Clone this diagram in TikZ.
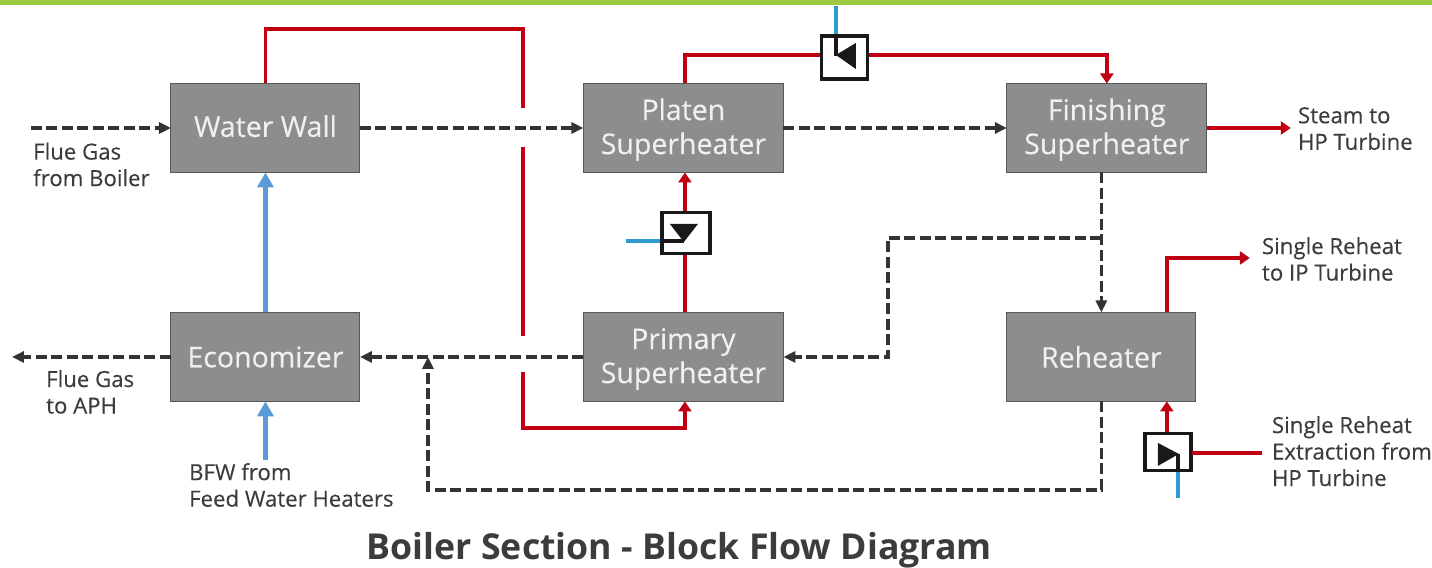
\documentclass[tikz,border=0pt]{standalone}
\usepackage{fontspec}
\setmainfont{Open Sans}
\newfontfamily\tagfont[FakeBold=0.25]{Open Sans}
\usetikzlibrary{arrows.meta, positioning, calc}
\definecolor{blockgray}{HTML}{8C8D8F}
\definecolor{steamred}{HTML}{C00010}
\definecolor{waterblue}{HTML}{5B9BD5}
\definecolor{sprayblue}{HTML}{2E9BD0}
\definecolor{textgray}{HTML}{3C3C3C}
\definecolor{barGreen}{HTML}{9BC93F}
\newcommand{\blocktop}{\rule{0pt}{25pt}}
\begin{document}
\begin{tikzpicture}[
    x=1pt, y=-1pt,
    node distance=140pt and 223.5pt,
    block/.style={rectangle, draw=black!65, line width=1pt, fill=blockgray, text=white!94!black, minimum height=89pt, minimum width=189pt, inner sep=0pt, outer sep=0pt, align=center, font=\tagfont\fontsize{28.5}{34}\selectfont},
    wideblock/.style={block, minimum width=200pt},
    valve/.style={rectangle, draw=black!90, line width=3.5pt, fill=white, minimum width=47pt, minimum height=42pt, inner sep=0pt, outer sep=1.5pt},
    tag/.style={align=left, anchor=north west, inner sep=0pt, text=textgray, font=\tagfont\fontsize{22.2}{26.5}\selectfont},
    steam/.style={draw=steamred, line width=3.5pt},
    steamarrow/.style={steam, -{Triangle[length=10pt, width=13pt]}},
    gas/.style={draw=black!80, line width=3.5pt, dash pattern=on 11pt off 4.5pt},
    gasarrow/.style={gas, -{Triangle[length=12pt, width=11pt]}},
    water/.style={draw=waterblue, line width=5pt, -{Triangle[length=15pt, width=16pt]}},
    spray/.style={draw=sprayblue, line width=3.5pt},
    nozzle/.style={draw=black!90, line width=3.5pt}
]

    % Boiler blocks
    \node[block, text depth=4pt] (waterwall) at (265.5,128) {Water Wall};
    \node[wideblock, right=of waterwall] (platen) {\blocktop Platen\\Superheater};
    \node[wideblock, right=of platen] (finishing) {\blocktop Finishing\\Superheater};
    \node[block, below=of waterwall] (economizer) {Economizer};
    \node[wideblock, below=of platen] (primary) {\blocktop Primary\\Superheater};
    \node[block] (reheater) at (1101.5,357) {Reheater};

    % Spray valves
    \node[valve, minimum width=46pt, minimum height=43pt] (valvetop) at (844.5,57.5) {};
    \node[valve, minimum width=48pt, minimum height=41pt] (valvemid) at (686,233) {};
    \node[valve, minimum width=46pt, minimum height=37pt] (valvelow) at (1168,452) {};

    % Free ends
    \coordinate (gasin) at (31,128);
    \coordinate (gasout) at (12,357);
    \coordinate (bfw) at (265.5,460);
    \coordinate (hpout) at (1291,128);
    \coordinate (ipout) at (1250,258);
    \coordinate (rhtop) at (1167,312);
    \coordinate (rhcold) at (1262,453);
    \coordinate (gapa) at (523,108);
    \coordinate (gapb) at (523,147);
    \coordinate (gapc) at (523,336);
    \coordinate (gapd) at (523,372);
    \coordinate (sprayatop) at (836,6);
    \coordinate (spraybmid) at (626,241);
    \coordinate (spraylow) at (1178,498);
    \coordinate (joinlow) at (428,490);
    \coordinate (joinmid) at (888,238);

    % Steam lines
    \draw[steam] (waterwall.north) |- (523,29) -- (gapa);
    \draw[steam] (gapb) -- (gapc);
    \draw[steamarrow] (gapd) |- (685,428) -- (primary.south -| 685,0);
    \draw[steamarrow] (valvemid.north -| 685,0) -- (platen.south -| 685,0);
    \draw[steam] (primary.north -| 685,0) -- (valvemid.south -| 685,0);
    \draw[steam] (platen.north -| 685,0) |- (valvetop.west |- 0,55);
    \draw[steamarrow] (valvetop.east |- 0,55) -| (finishing.north);
    \draw[steamarrow] (finishing.east) -- (hpout);
    \draw[steamarrow] (rhtop) |- (ipout);
    \draw[steamarrow] (rhtop |- valvelow.north) -- (rhtop |- reheater.south);
    \draw[steam] (rhcold) -- (valvelow.east |- rhcold);

    % Flue gas lines
    \draw[gasarrow] (gasin) -- (waterwall.west);
    \draw[gasarrow] (waterwall.east) -- (platen.west |- waterwall.east);
    \draw[gasarrow] (platen.east) -- (finishing.west |- platen.east);
    \draw[gasarrow] (finishing.south -| reheater.north) -- (reheater.north);
    \draw[gasarrow] (joinmid -| reheater.north) -- (joinmid) |- (primary.east);
    \draw[gasarrow] (primary.west) -- (economizer.east);
    \draw[gasarrow] (economizer.west) -- (gasout);
    \draw[gasarrow] (reheater.south) |- (joinlow) -- (joinlow |- economizer.east);

    % Water lines
    \draw[water] (economizer.north) -- (waterwall.south);
    \draw[water] (bfw) -- (economizer.south);

    % Spray lines and their nozzles
    \draw[spray] (sprayatop) -- (sprayatop |- valvetop.north);
    \draw[nozzle] (sprayatop |- valvetop.north) -- (836,56);
    \fill[black!90] (836,55) -- (856,43) -- (856,69) -- cycle;
    \draw[spray] (spraybmid) -- (spraybmid -| valvemid.west);
    \draw[nozzle] (spraybmid -| valvemid.west) -- (684,241);
    \fill[black!90] (684,242) -- (670,224) -- (698,224) -- cycle;
    \draw[spray] (spraylow) -- (spraylow |- valvelow.south);
    \draw[nozzle] (spraylow |- valvelow.south) -- (1178,454);
    \fill[black!90] (1179,454) -- (1158,443) -- (1158,466) -- cycle;

    % Labels
    \node[tag] (lblboiler) at (33,142.5) {Flue Gas\\from Boiler};
    \node[tag] (lblaph) at (46,370) {Flue Gas\\to APH};
    \node[tag] (lblbfw) at (189,463) {BFW from\\Feed Water Heaters};
    \node[tag] (lblhp) at (1298,107) {Steam to\\HP Turbine};
    \node[tag] (lblip) at (1262,237) {Single Reheat\\to IP Turbine};
    \node[tag] (lblextract) at (1272,416) {Single Reheat\\Extraction from\\HP Turbine};
    \node[font=\fontsize{35.7}{42}\selectfont\bfseries, text=textgray, inner sep=0pt] (title) at (679.5,550) {Boiler Section - Block Flow Diagram};

    % Top bar
    \node[fill=barGreen, minimum width=1432pt, minimum height=5pt, inner sep=0pt, anchor=north west] (topbar) at (0,0) {};

    \useasboundingbox (0,0) rectangle (1432,568);
\end{tikzpicture}
\end{document}
